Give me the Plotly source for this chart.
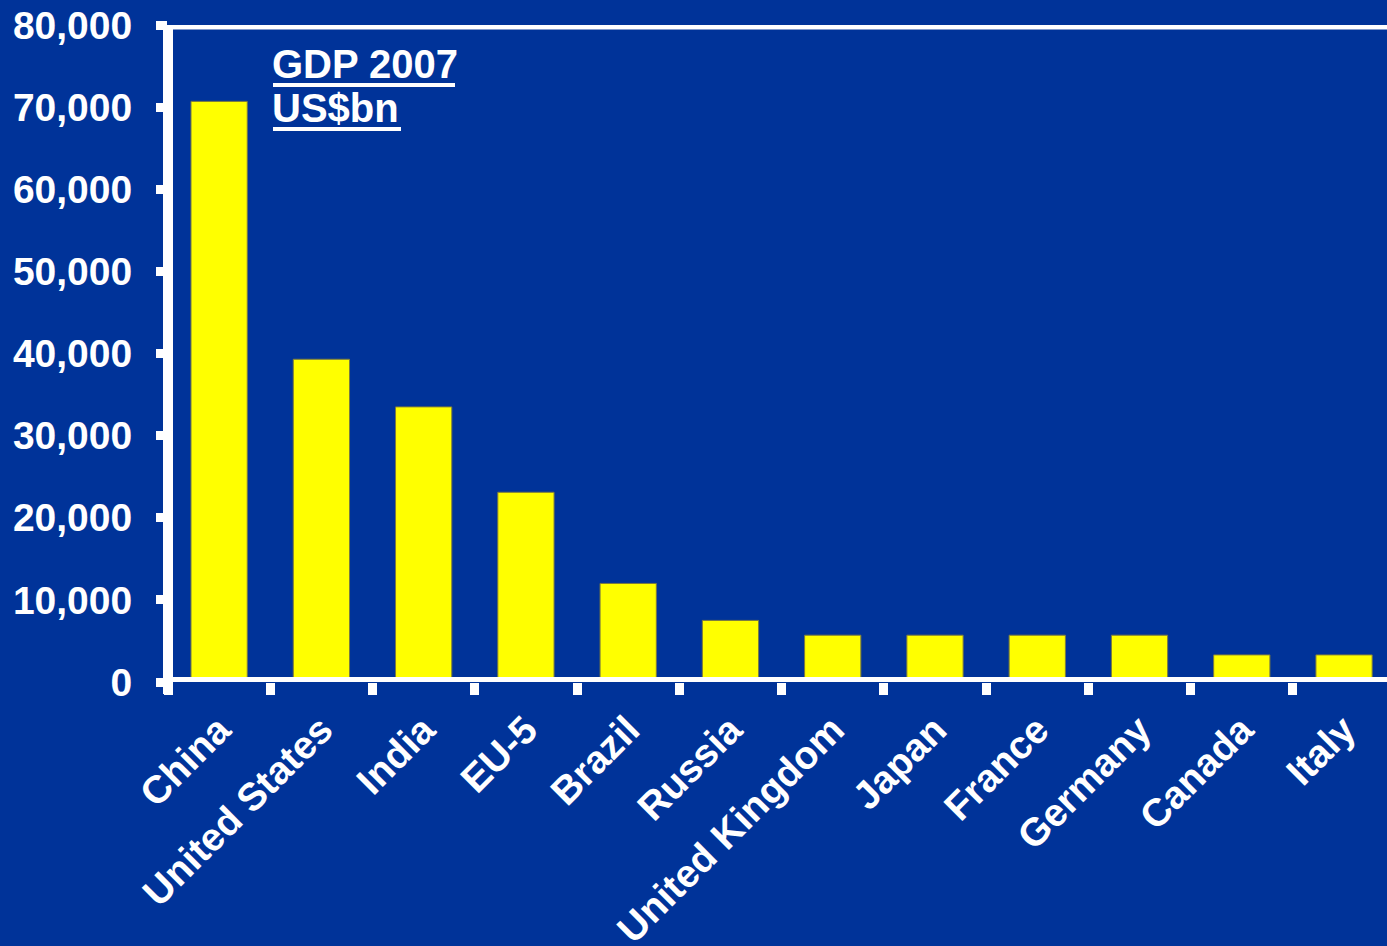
import plotly.graph_objects as go

# GDP 2007 data (US$bn)
countries = ["China", "United States", "India", "EU-5", "Brazil", "Russia",
             "United Kingdom", "Japan", "France", "Germany", "Canada", "Italy"]
gdp = [70700, 39300, 33500, 23100, 12000, 7500, 5700, 5700, 5700, 5700, 3300, 3300]
y_ticks = [0, 10000, 20000, 30000, 40000, 50000, 60000, 70000, 80000]
y_tick_text = ["0", "10,000", "20,000", "30,000", "40,000", "50,000", "60,000", "70,000", "80,000"]
title_lines = ["GDP 2007", "US$bn"]

BG = "#003399"
W, H = 1387, 946
ML, MT, MB = 168, 25, 264
plot_w = W - ML
plot_h = H - MT - MB

fig = go.Figure(go.Bar(
    x=countries, y=gdp,
    marker=dict(color="#FFFF00", line=dict(color="#7a7a40", width=1)),
))

font_main = "Liberation Sans, Arial, sans-serif"

fig.update_layout(
    width=W, height=H,
    margin=dict(l=ML, r=0, t=MT, b=MB, autoexpand=False),
    paper_bgcolor=BG, plot_bgcolor=BG,
    bargap=0.45,
    showlegend=False,
    font=dict(family=font_main, color="white"),
    xaxis=dict(
        type="category",
        range=[-0.5, 11.42],
        tickson="boundaries",
        ticks="outside", ticklen=12, tickwidth=9, tickcolor="white",
        tickangle=-45,
        ticklabelstandoff=16,
        tickfont=dict(size=39, family=font_main, color="white", weight="bold"),
        showline=False, showgrid=False, zeroline=False,
        automargin=False,
    ),
    yaxis=dict(
        range=[0, 80000],
        tickvals=y_ticks, ticktext=y_tick_text,
        ticks="outside", ticklen=11, tickwidth=9, tickcolor="white",
        ticklabelstandoff=16,
        tickfont=dict(size=39, family=font_main, color="white", weight="bold"),
        showline=False, showgrid=False, zeroline=False,
        automargin=False,
    ),
)

# Frame lines: left axis, baseline and top rule
x_left_ext = -11 / plot_w
y_below = -12 / plot_h
fig.add_shape(type="line", xref="paper", yref="paper", x0=0, x1=0, y0=y_below, y1=1,
              line=dict(color="white", width=10))
fig.add_shape(type="line", xref="paper", yref="y", x0=-5 / plot_w, x1=1.02, y0=0, y1=0,
              line=dict(color="white", width=10))
fig.add_shape(type="line", xref="paper", yref="y", x0=x_left_ext, x1=1.02, y0=80000, y1=80000,
              line=dict(color="white", width=9))

# Underlined two-line caption
def px_x(px):
    return (px - ML) / plot_w

def px_y(py):
    return (H - MB - py) / plot_h

caption_left = 273
baselines = [78, 122]
underline_ends = [455, 401]
for line_text, base, u_end in zip(title_lines, baselines, underline_ends):
    fig.add_annotation(
        xref="paper", yref="paper",
        x=px_x(caption_left - 3), y=px_y(base + 10),
        xanchor="left", yanchor="bottom", align="left",
        showarrow=False, text=line_text,
        font=dict(size=40, family=font_main, color="white", weight="bold"),
    )
    fig.add_shape(type="line", xref="paper", yref="paper",
                  x0=px_x(caption_left), x1=px_x(u_end),
                  y0=px_y(base + 7), y1=px_y(base + 7),
                  line=dict(color="white", width=4))

fig.write_html("out.html")
